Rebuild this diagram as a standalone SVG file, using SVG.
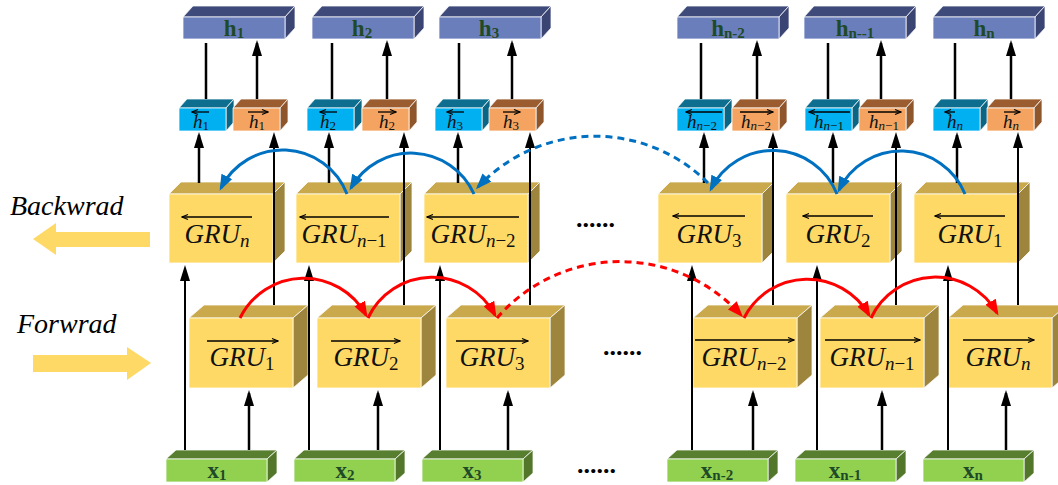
<svg xmlns="http://www.w3.org/2000/svg" xmlns:xlink="http://www.w3.org/1999/xlink" width="1058" height="485" viewBox="0 0 1058 485">
  <style>
    .edge{stroke:#fff;stroke-width:1;stroke-opacity:0.75;stroke-linejoin:round}
    .ln{stroke:#000;stroke-width:2.5;fill:none;marker-end:url(#ah)}
    .lt{stroke:#000;stroke-width:2;fill:none;marker-end:url(#ah)}
    .bl{stroke:#0070c0;stroke-width:3;fill:none;marker-end:url(#ab)}
    .rd{stroke:#ff0000;stroke-width:3;fill:none;marker-end:url(#ar)}
    .dash{stroke-dasharray:7 5}
    .ov{stroke:#000;stroke-width:1.3;fill:none;marker-end:url(#sa)}
    .gru{font-family:"Liberation Serif","Times New Roman",serif;font-style:italic;font-size:27px;fill:#111;text-anchor:middle}
    .gs{font-size:19px}
    .up{font-style:normal}
    .hs{font-family:"Liberation Serif","Times New Roman",serif;font-style:italic;font-size:19px;fill:#111;text-anchor:middle}
    .hss{font-size:13px}
    .bold{font-family:"Liberation Serif","Times New Roman",serif;font-weight:bold;font-size:23px;fill:#1f4a28;text-anchor:middle}
    .bs{font-size:15px}
    .dir{font-family:"Liberation Serif","Times New Roman",serif;font-style:italic;font-size:28px;fill:#000}
    .dots{font-family:"Liberation Serif","Times New Roman",serif;font-weight:bold;font-size:26px;fill:#000}
    .big{fill:#fed966}
  </style>
  <defs>
    <!-- arrowheads -->
    <marker id="ah" viewBox="0 0 16 10" refX="13" refY="5" markerWidth="16" markerHeight="10" markerUnits="userSpaceOnUse" orient="auto">
      <path d="M0,0 L16,5 L0,10 z" fill="#000"/>
    </marker>
    <marker id="ab" viewBox="0 0 16 12" refX="13" refY="6" markerWidth="16" markerHeight="12" markerUnits="userSpaceOnUse" orient="auto">
      <path d="M0,0 L16,6 L0,12 z" fill="#0070c0"/>
    </marker>
    <marker id="ar" viewBox="0 0 16 12" refX="13" refY="6" markerWidth="16" markerHeight="12" markerUnits="userSpaceOnUse" orient="auto">
      <path d="M0,0 L16,6 L0,12 z" fill="#ff0000"/>
    </marker>
    <marker id="sa" viewBox="0 0 8 8" refX="7" refY="4" markerWidth="8" markerHeight="8" markerUnits="userSpaceOnUse" orient="auto">
      <path d="M1,1.5 L7,4 L1,6.5" fill="none" stroke="#000" stroke-width="1.1"/>
    </marker>

    <!-- output block -->
    <g id="box-h" class="edge">
      <polygon points="0,0 10,-11 112,-11 102,0" fill="#3e4a7a"/>
      <polygon points="102,0 112,-11 112,11 102,22" fill="#3a4573"/>
      <rect x="0" y="0" width="102" height="22" fill="#6b7ebc"/>
    </g>
    <!-- backward hidden state cell -->
    <g id="cell-b" class="edge">
      <polygon points="0,0 8,-9 55,-9 47,0" fill="#0d6e8f"/>
      <polygon points="47,0 55,-9 55,14 47,23" fill="#0b6585"/>
      <rect x="0" y="0" width="47" height="23" fill="#00b0f0"/>
    </g>
    <!-- forward hidden state cell -->
    <g id="cell-f" class="edge">
      <polygon points="0,0 8,-9 55,-9 47,0" fill="#9b5d2f"/>
      <polygon points="47,0 55,-9 55,14 47,23" fill="#8f552b"/>
      <rect x="0" y="0" width="47" height="23" fill="#f4a460"/>
    </g>
    <!-- backward GRU block -->
    <g id="gru-b" class="edge">
      <polygon points="0,0 12,-12 116,-12 104,0" fill="#c9a94c"/>
      <polygon points="104,0 116,-12 116,57 104,69" fill="#9e853e"/>
      <rect x="0" y="0" width="104" height="69" fill="#ffd966"/>
    </g>
    <!-- forward GRU block -->
    <g id="gru-f" class="edge">
      <polygon points="0,0 15,-13 119,-13 104,0" fill="#c9a94c"/>
      <polygon points="104,0 119,-13 119,57 104,70" fill="#9e853e"/>
      <rect x="0" y="0" width="104" height="70" fill="#ffd966"/>
    </g>
    <!-- input block -->
    <g id="box-x" class="edge">
      <polygon points="0,0 10,-9 111,-9 101,0" fill="#587f2f"/>
      <polygon points="101,0 111,-9 111,14 101,23" fill="#52772b"/>
      <rect x="0" y="0" width="101" height="23" fill="#92d050"/>
    </g>
  </defs>

  <rect width="1058" height="485" fill="#fff"/>

  <!-- direction labels -->
  <g id="dir-backward">
    <text class="dir" x="10" y="215">Backwrad</text>
    <polygon class="big" points="33,239 56,223 56,232 150,232 150,247 56,247 56,255"/>
  </g>
  <g id="dir-forward">
    <text class="dir" x="17" y="333">Forwrad</text>
    <polygon class="big" points="33,355 127,355 127,347 151,363 127,380 127,372 33,372"/>
  </g>

  <!-- outputs h_t -->
  <g id="h1"><use xlink:href="#box-h" x="183" y="17"/><text class="bold" x="234" y="36">h<tspan class="bs" dy="2">1</tspan></text></g>
  <g id="h2"><use xlink:href="#box-h" x="312" y="17"/><text class="bold" x="362" y="36">h<tspan class="bs" dy="2">2</tspan></text></g>
  <g id="h3"><use xlink:href="#box-h" x="439" y="17"/><text class="bold" x="489" y="36">h<tspan class="bs" dy="2">3</tspan></text></g>
  <g id="h-n2"><use xlink:href="#box-h" x="677" y="17"/><text class="bold" x="728" y="36">h<tspan class="bs" dy="2">n-2</tspan></text></g>
  <g id="h-n1"><use xlink:href="#box-h" x="804" y="17"/><text class="bold" x="855" y="36">h<tspan class="bs" dy="2">n--1</tspan></text></g>
  <g id="h-n"><use xlink:href="#box-h" x="933" y="17"/><text class="bold" x="984" y="36">h<tspan class="bs" dy="2">n</tspan></text></g>

  <!-- backward hidden states -->
  <g id="hb1"><use xlink:href="#cell-b" x="179" y="108"/><path class="ov" d="M209,112 H192"/><text class="hs" x="201" y="128">h<tspan class="hss up" dy="2">1</tspan></text></g>
  <g id="hb2"><use xlink:href="#cell-b" x="307" y="108"/><path class="ov" d="M337,112 H320"/><text class="hs" x="328" y="128">h<tspan class="hss up" dy="2">2</tspan></text></g>
  <g id="hb3"><use xlink:href="#cell-b" x="435" y="108"/><path class="ov" d="M464,112 H447"/><text class="hs" x="455" y="128">h<tspan class="hss up" dy="2">3</tspan></text></g>
  <g id="hb-n2"><use xlink:href="#cell-b" x="677" y="108"/><path class="ov" d="M722,112 H686"/><text class="hs" x="702" y="128">h<tspan class="hss" dy="2">n<tspan class="up">−2</tspan></tspan></text></g>
  <g id="hb-n1"><use xlink:href="#cell-b" x="805" y="108"/><path class="ov" d="M850,112 H809"/><text class="hs" x="829" y="128">h<tspan class="hss" dy="2">n<tspan class="up">−1</tspan></tspan></text></g>
  <g id="hb-n"><use xlink:href="#cell-b" x="933" y="108"/><path class="ov" d="M955,112 H945"/><text class="hs" x="955" y="128">h<tspan class="hss" dy="2">n</tspan></text></g>

  <!-- forward hidden states -->
  <g id="hf1"><use xlink:href="#cell-f" x="233" y="108"/><path class="ov" d="M248,112 H268"/><text class="hs" x="257" y="128">h<tspan class="hss up" dy="2">1</tspan></text></g>
  <g id="hf2"><use xlink:href="#cell-f" x="362" y="108"/><path class="ov" d="M378,112 H396"/><text class="hs" x="387" y="128">h<tspan class="hss up" dy="2">2</tspan></text></g>
  <g id="hf3"><use xlink:href="#cell-f" x="489" y="108"/><path class="ov" d="M503,112 H520"/><text class="hs" x="511" y="128">h<tspan class="hss up" dy="2">3</tspan></text></g>
  <g id="hf-n2"><use xlink:href="#cell-f" x="732" y="108"/><path class="ov" d="M740,112 H773"/><text class="hs" x="756" y="128">h<tspan class="hss" dy="2">n<tspan class="up">−2</tspan></tspan></text></g>
  <g id="hf-n1"><use xlink:href="#cell-f" x="859" y="108"/><path class="ov" d="M868,112 H901"/><text class="hs" x="884" y="128">h<tspan class="hss" dy="2">n<tspan class="up">−1</tspan></tspan></text></g>
  <g id="hf-n"><use xlink:href="#cell-f" x="987" y="108"/><path class="ov" d="M1004,112 H1020"/><text class="hs" x="1011" y="128">h<tspan class="hss" dy="2">n</tspan></text></g>

  <!-- backward GRU layer -->
  <g id="gru-b-n"><use xlink:href="#gru-b" x="169" y="194"/><path class="ov" d="M252,217 H182"/><text class="gru" x="217" y="243">GRU<tspan class="gs" dy="4">n</tspan></text></g>
  <g id="gru-b-n1"><use xlink:href="#gru-b" x="296" y="194"/><path class="ov" d="M389,217 H300"/><text class="gru" x="344" y="243">GRU<tspan class="gs" dy="4">n<tspan class="up">−1</tspan></tspan></text></g>
  <g id="gru-b-n2"><use xlink:href="#gru-b" x="424" y="194"/><path class="ov" d="M519,217 H427"/><text class="gru" x="473" y="243">GRU<tspan class="gs" dy="4">n<tspan class="up">−2</tspan></tspan></text></g>
  <g id="gru-b-3"><use xlink:href="#gru-b" x="658" y="194"/><path class="ov" d="M745,216 H673"/><text class="gru" x="709" y="243">GRU<tspan class="gs up" dy="4">3</tspan></text></g>
  <g id="gru-b-2"><use xlink:href="#gru-b" x="786" y="194"/><path class="ov" d="M873,216 H803"/><text class="gru" x="838" y="243">GRU<tspan class="gs up" dy="4">2</tspan></text></g>
  <g id="gru-b-1"><use xlink:href="#gru-b" x="914" y="194"/><path class="ov" d="M1005,216 H935"/><text class="gru" x="970" y="243">GRU<tspan class="gs up" dy="4">1</tspan></text></g>

  <!-- forward GRU layer -->
  <g id="gru-f-1"><use xlink:href="#gru-f" x="189" y="318"/><path class="ov" d="M207,341 H278"/><text class="gru" x="242" y="366">GRU<tspan class="gs up" dy="4">1</tspan></text></g>
  <g id="gru-f-2"><use xlink:href="#gru-f" x="317" y="318"/><path class="ov" d="M331,341 H400"/><text class="gru" x="366" y="366">GRU<tspan class="gs up" dy="4">2</tspan></text></g>
  <g id="gru-f-3"><use xlink:href="#gru-f" x="446" y="318"/><path class="ov" d="M456,341 H528"/><text class="gru" x="492" y="366">GRU<tspan class="gs up" dy="4">3</tspan></text></g>
  <g id="gru-f-n2"><use xlink:href="#gru-f" x="693" y="318"/><path class="ov" d="M695,340 H794"/><text class="gru" x="744" y="366">GRU<tspan class="gs" dy="4">n<tspan class="up">−2</tspan></tspan></text></g>
  <g id="gru-f-n1"><use xlink:href="#gru-f" x="820" y="318"/><path class="ov" d="M825,340 H920"/><text class="gru" x="872" y="366">GRU<tspan class="gs" dy="4">n<tspan class="up">−1</tspan></tspan></text></g>
  <g id="gru-f-n"><use xlink:href="#gru-f" x="948" y="318"/><path class="ov" d="M963,340 H1034"/><text class="gru" x="998" y="366">GRU<tspan class="gs" dy="4">n</tspan></text></g>

  <!-- inputs x_t -->
  <g id="x1"><use xlink:href="#box-x" x="166" y="459"/><text class="bold" x="217" y="478">x<tspan class="bs" dy="2">1</tspan></text></g>
  <g id="x2"><use xlink:href="#box-x" x="294" y="459"/><text class="bold" x="345" y="478">x<tspan class="bs" dy="2">2</tspan></text></g>
  <g id="x3"><use xlink:href="#box-x" x="422" y="459"/><text class="bold" x="472" y="478">x<tspan class="bs" dy="2">3</tspan></text></g>
  <g id="x-n2"><use xlink:href="#box-x" x="667" y="459"/><text class="bold" x="717" y="478">x<tspan class="bs" dy="2">n-2</tspan></text></g>
  <g id="x-n1"><use xlink:href="#box-x" x="795" y="459"/><text class="bold" x="845" y="478">x<tspan class="bs" dy="2">n-1</tspan></text></g>
  <g id="x-n"><use xlink:href="#box-x" x="923" y="459"/><text class="bold" x="973" y="478">x<tspan class="bs" dy="2">n</tspan></text></g>

  <!-- ellipses for the omitted time steps -->
  <g id="ellipsis">
    <text class="dots" x="576" y="227">......</text>
    <text class="dots" x="603" y="355">......</text>
    <text class="dots" x="577" y="473">......</text>
  </g>

  <g id="connectors">
    <!-- hidden states to outputs -->
    <path class="ln" d="M206,99 V43 M257,99 V43"/>
    <path class="ln" d="M332,99 V43 M387,99 V43"/>
    <path class="ln" d="M459,99 V43 M512,99 V43"/>
    <path class="ln" d="M701,99 V43 M757,99 V43"/>
    <path class="ln" d="M828,99 V43 M881,99 V43"/>
    <path class="ln" d="M955,99 V43 M1011,99 V43"/>
    <!-- backward GRU to backward states -->
    <path class="ln" d="M199,183 V135"/>
    <path class="ln" d="M329,183 V135"/>
    <path class="ln" d="M458,183 V135"/>
    <path class="ln" d="M704,183 V135"/>
    <path class="ln" d="M833,183 V135"/>
    <path class="ln" d="M957,183 V135"/>
    <!-- forward GRU to forward states -->
    <path class="lt" d="M274,305 V135"/>
    <path class="lt" d="M404,305 V135"/>
    <path class="lt" d="M530,305 V135"/>
    <path class="lt" d="M773,305 V135"/>
    <path class="lt" d="M896,305 V135"/>
    <path class="lt" d="M1018,305 V135"/>
    <!-- inputs to backward GRU -->
    <path class="lt" d="M185,450 V268"/>
    <path class="lt" d="M309,450 V268"/>
    <path class="lt" d="M440,450 V268"/>
    <path class="lt" d="M692,450 V268"/>
    <path class="lt" d="M817,450 V268"/>
    <path class="lt" d="M948,450 V268"/>
    <!-- inputs to forward GRU -->
    <path class="ln" d="M249,450 V393"/>
    <path class="ln" d="M378,450 V393"/>
    <path class="ln" d="M508,450 V393"/>
    <path class="ln" d="M753,450 V393"/>
    <path class="ln" d="M882,450 V393"/>
    <path class="ln" d="M1006,450 V393"/>
    <!-- backward recurrence -->
    <path class="bl" d="M347,194 A69,69 0 0,0 221,188"/>
    <path class="bl" d="M474,194 A69,69 0 0,0 351,188"/>
    <path class="bl dash" d="M708,183 A160,160 0 0,0 478,187"/>
    <path class="bl" d="M837,194 A69,69 0 0,0 711,189"/>
    <path class="bl" d="M965,194 A69,69 0 0,0 839,190"/>
    <!-- forward recurrence -->
    <path class="rd" d="M240,318 A71,71 0 0,1 366,315"/>
    <path class="rd" d="M368,318 A71,71 0 0,1 495,315"/>
    <path class="rd dash" d="M497,318 A163,163 0 0,1 741,315"/>
    <path class="rd" d="M744,318 A71,71 0 0,1 869,315"/>
    <path class="rd" d="M871,318 A71,71 0 0,1 997,313"/>
  </g>
</svg>
